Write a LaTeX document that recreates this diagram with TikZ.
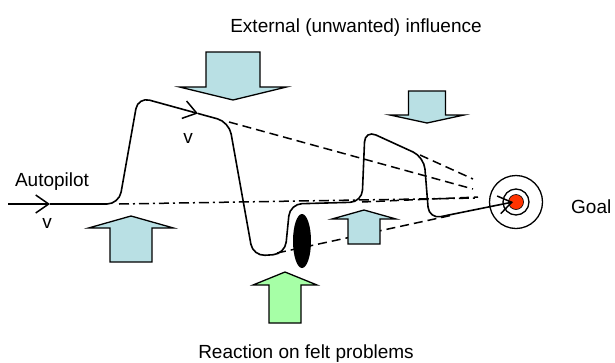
\documentclass[tikz,border=0pt]{standalone}
\usepackage{fontspec}
\setmainfont{Liberation Sans}
\usetikzlibrary{arrows.meta,shapes.geometric}
\definecolor{pushblue}{RGB}{185,224,228}
\definecolor{pushgreen}{RGB}{166,255,166}
\definecolor{goalred}{RGB}{255,51,0}

\begin{document}
\begin{tikzpicture}[
    x=1pt,y=-1pt,
    font=\fontsize{19}{22}\selectfont,
    >={Straight Barb[length=13pt,width=18pt,line width=1.5pt]},
    course/.style={line width=1.6pt,rounded corners=12pt},
    aim/.style={line width=1.5pt,dash pattern=on 9pt off 5pt},
    base/.style={line width=1.5pt,dash pattern=on 10pt off 4pt on 2pt off 4pt},
    push/.style={draw,line width=1.3pt,line join=miter},
    label/.style={anchor=base,inner sep=0pt},
    ]
    \useasboundingbox (0,0) rectangle (615,362);

    % course points
    \coordinate (start) at (8,204);
    \coordinate (v1) at (50,204);
    \coordinate (lift) at (119,204);
    \coordinate (top1) at (138,97);
    \coordinate (v2) at (198,113.5);
    \coordinate (fall) at (229,122);
    \coordinate (low) at (253,256);
    \coordinate (lowend) at (285,254);
    \coordinate (rise) at (290,204);
    \coordinate (lift2) at (362,202);
    \coordinate (top2) at (365,130);
    \coordinate (fall2) at (424,157);
    \coordinate (low2) at (429,219);
    \coordinate (hit) at (513,202);

    % aim lines
    \coordinate (aim1) at (473,189);
    \coordinate (aim2a) at (420,155);
    \coordinate (aim2) at (473,179);
    \coordinate (aim3) at (478,197);
    \coordinate (aimbase) at (478,198);
    \coordinate (aim4a) at (277,253);
    \coordinate (aim4) at (453,215);
    \draw[aim] (fall) -- (aim1);
    \draw[aim] (aim2a) -- (aim2);
    \draw[aim] (lift2) -- (aim3);
    \draw[aim] (aim4a) -- (aim4);
    \draw[base] (lift) -- (aimbase);

    % influences
    \foreach \cx/\sw/\ww/\tail/\wing/\tip/\col in {
        233/27/53.5/52/87/100/pushblue,
        427/18.5/37/91/115/123/pushblue,
        131/21/42.5/262/228/216/pushblue,
        364/16/32/244/219/210/pushblue,
        285/16/32/323/285/272/pushgreen}
        \draw[push,fill=\col] (\cx-\sw,\tail) -- (\cx+\sw,\tail) -- (\cx+\sw,\wing)
            -- (\cx+\ww,\wing) -- (\cx,\tip) -- (\cx-\ww,\wing) -- (\cx-\sw,\wing) -- cycle;

    % felt problem
    \node[ellipse,fill=black,minimum width=18,minimum height=54,inner sep=0pt] (problem) at (302,241) {};

    % goal
    \node[circle,draw,line width=1.3pt,minimum size=53,inner sep=0pt] (goal) at (516,202) {};
    \node[circle,draw,line width=1.3pt,minimum size=26,inner sep=0pt] (ring) at (goal.center) {};
    \node[circle,draw,fill=goalred,line width=.6pt,minimum size=15,inner sep=0pt] (bull) at (goal.center) {};

    % course
    \draw[course,->] (start) -- (v1);
    \draw[course,->] (v1) -- (lift) -- (top1) -- (v2);
    \draw[course,->] (v2) -- (fall) -- (low) -- (lowend) -- (rise) -- (lift2)
        -- (top2) -- (fall2) -- (low2) -- (hit);

    % texts
    \node[label] (ext) at (356,32) {External (unwanted) influence};
    \node[label] (react) at (306,358) {Reaction on felt problems};
    \node[label] (auto) at (52,186) {Autopilot};
    \node[label,anchor=base west] (goaltext) at (571,213) {Goal};
    \node[label] (v1lab) at (47,228) {v};
    \node[label] (v2lab) at (188,143) {v};
\end{tikzpicture}
\end{document}
